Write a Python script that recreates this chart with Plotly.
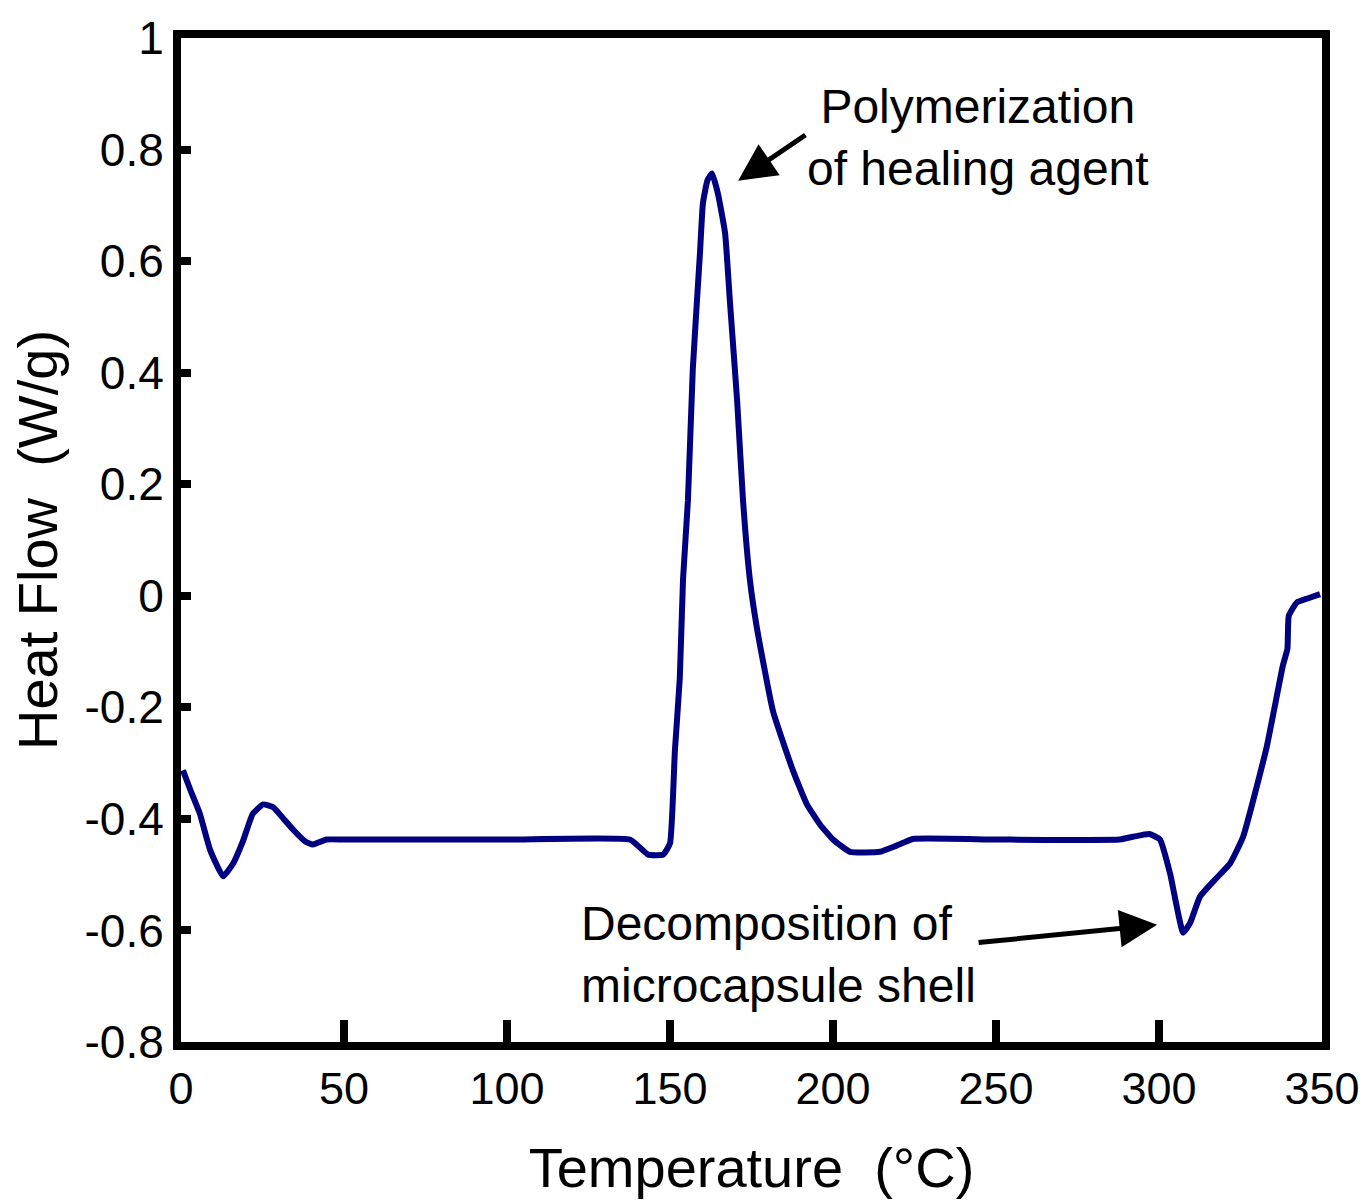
import plotly.graph_objects as go

# ---- data ----
temperature = [0.6, 3, 5.8, 8.9, 12.9, 16, 19, 22, 25.2, 28.3, 31.5, 34.5, 38, 40.5, 44.6,
               50, 100, 137.7, 140.5, 143.3, 147.9, 150, 151.5, 153, 154, 155.5, 157,
               159.2, 160.1, 161.5, 162.9, 164.7, 166.9, 168.4, 170.6, 172.4, 174.5,
               176.7, 181.6, 187.7, 192, 196, 200, 205.2, 214.4, 219.5, 224.5, 250,
               288, 292, 297, 300.3, 303.4, 307.4, 309.5, 312.6, 317, 321.8, 325.8,
               333, 338, 339.4, 339.8, 342.3, 346, 349.4]
heat_flow = [-0.313, -0.35, -0.391, -0.455, -0.503, -0.48, -0.44, -0.391, -0.374, -0.379,
             -0.40, -0.42, -0.44, -0.446, -0.437,
             -0.437, -0.437, -0.437, -0.45, -0.464, -0.464, -0.444, -0.278, -0.148,
             0.03, 0.171, 0.407, 0.615, 0.704, 0.745, 0.757, 0.721, 0.65, 0.526,
             0.349, 0.171, 0.029, -0.059, -0.207, -0.313, -0.374, -0.41, -0.437,
             -0.459, -0.459, -0.448, -0.436, -0.437, -0.437, -0.432, -0.427, -0.437,
             -0.498, -0.604, -0.587, -0.539, -0.51, -0.48, -0.432, -0.272, -0.125,
             -0.095, -0.036, -0.012, -0.004, 0.003]

x_ticks = [0, 50, 100, 150, 200, 250, 300, 350]
x_tick_labels = ["0", "50", "100", "150", "200", "250", "300", "350"]
y_ticks = [-0.8, -0.6, -0.4, -0.2, 0, 0.2, 0.4, 0.6, 0.8, 1]
y_tick_labels = ["-0.8", "-0.6", "-0.4", "-0.2", "0", "0.2", "0.4", "0.6", "0.8", "1"]

x_title = "Temperature  (°C)"
y_title = "Heat Flow  (W/g)"
note_peak = "Polymerization<br>of healing agent"
note_shell = "Decomposition of<br>microcapsule shell"

FONT = "Liberation Sans, Arial, sans-serif"

fig = go.Figure()
fig.add_trace(go.Scatter(
    x=temperature, y=heat_flow, mode="lines",
    line=dict(color="#000080", width=6, shape="spline", smoothing=0.4),
    showlegend=False, hoverinfo="skip"))

fig.update_layout(
    width=1372, height=1203,
    margin=dict(l=181, r=49, t=33, b=156),
    paper_bgcolor="white", plot_bgcolor="white",
    font=dict(family=FONT, color="black"),
    xaxis=dict(
        range=[0, 350], tickvals=x_ticks, ticktext=x_tick_labels,
        showgrid=False, zeroline=False,
        showline=True, linecolor="black", linewidth=8, mirror=True,
        ticks="inside", ticklen=22, tickwidth=8, tickcolor="black",
        tickfont=dict(size=45, family=FONT, color="black"),
        title=dict(text=x_title, font=dict(size=56, family=FONT, color="black"), standoff=38),
    ),
    yaxis=dict(
        range=[-0.8, 1], tickvals=y_ticks, ticktext=y_tick_labels,
        showgrid=False, zeroline=False,
        showline=True, linecolor="black", linewidth=8, mirror=True,
        ticks="inside", ticklen=10, tickwidth=8, tickcolor="black",
        tickfont=dict(size=46, family=FONT, color="black"),
        title=dict(text=y_title, font=dict(size=56, family=FONT, color="black"), standoff=12),
    ),
)

# text annotations
fig.add_annotation(x=244.5, y=0.822, xref="x", yref="y", text=note_peak,
                   showarrow=False, xanchor="center", yanchor="middle", align="center",
                   font=dict(size=48, family=FONT, color="black"))
fig.add_annotation(x=122.0, y=-0.643, xref="x", yref="y", text=note_shell,
                   showarrow=False, xanchor="left", yanchor="middle", align="left",
                   font=dict(size=48, family=FONT, color="black"))

# arrows
fig.add_annotation(x=170.9, y=0.744, ax=192.0, ay=0.828, xref="x", yref="y",
                   axref="x", ayref="y", text="", showarrow=True,
                   arrowhead=2, arrowsize=1.5, arrowwidth=5, arrowcolor="black")
fig.add_annotation(x=299.4, y=-0.590, ax=244.2, ay=-0.622, xref="x", yref="y",
                   axref="x", ayref="y", text="", showarrow=True,
                   arrowhead=2, arrowsize=1.5, arrowwidth=5, arrowcolor="black")

fig.write_html("out.html")
